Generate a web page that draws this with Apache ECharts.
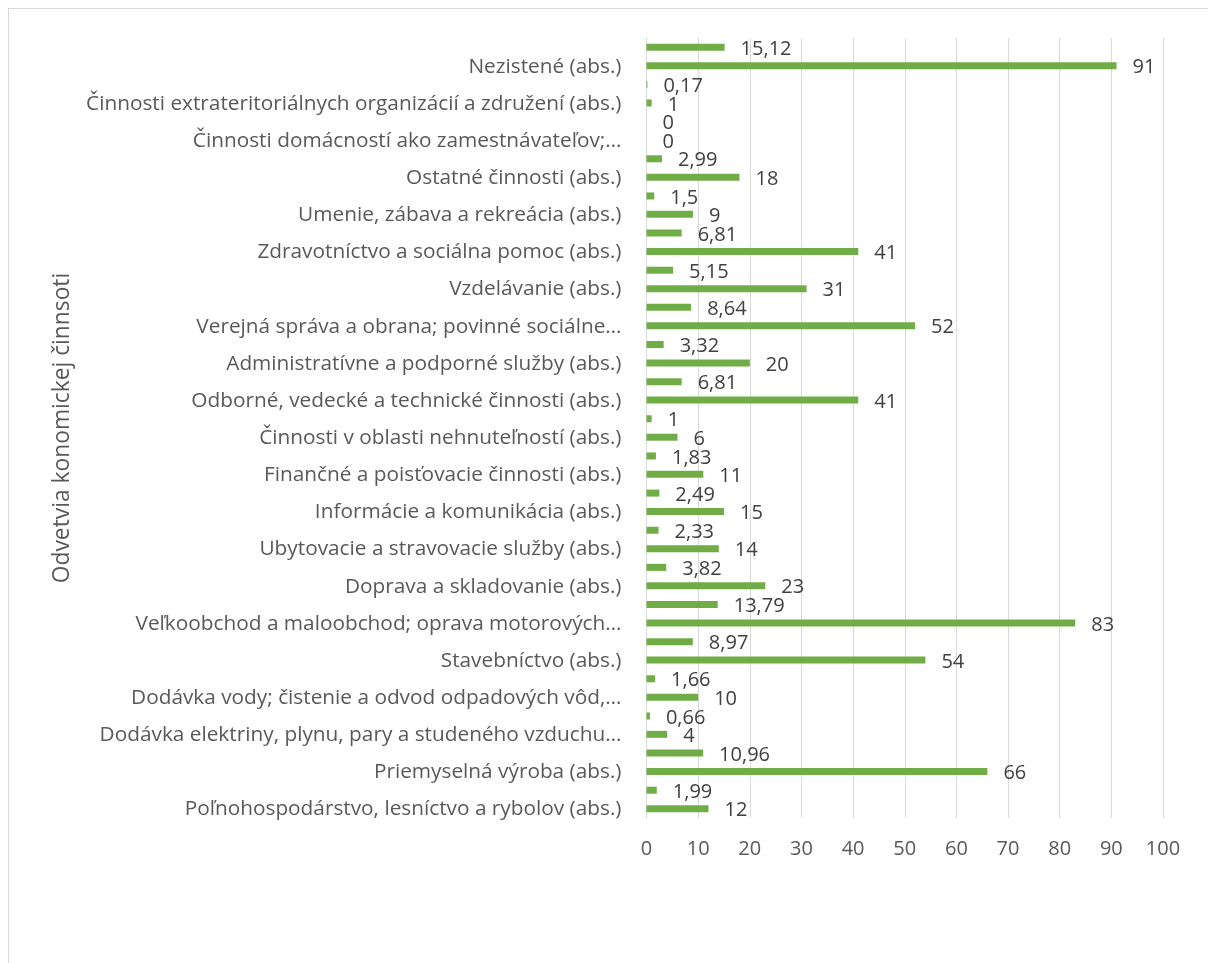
<!DOCTYPE html>
<html>
<head>
<meta charset="utf-8">
<script src="https://cdn.jsdelivr.net/npm/echarts@6/dist/echarts.min.js"></script>
<style>
html,body{margin:0;padding:0;background:#fff;overflow:hidden;}
#frame{position:absolute;left:8px;top:8px;width:1230px;height:990px;border:1px solid #d9d9d9;box-sizing:border-box;}
#chart{position:absolute;left:0;top:0;width:1208px;height:963px;}
</style>
</head>
<body>
<div id="frame"></div>
<div id="chart"></div>
<script>
const categories = [
  "Nezistené (abs.)",
  "Činnosti extrateritoriálnych organizácií a združení (abs.)",
  "Činnosti domácností ako zamestnávateľov;…",
  "Ostatné činnosti (abs.)",
  "Umenie, zábava a rekreácia (abs.)",
  "Zdravotníctvo a sociálna pomoc (abs.)",
  "Vzdelávanie (abs.)",
  "Verejná správa a obrana; povinné sociálne…",
  "Administratívne a podporné služby (abs.)",
  "Odborné, vedecké a technické činnosti (abs.)",
  "Činnosti v oblasti nehnuteľností (abs.)",
  "Finančné a poisťovacie činnosti (abs.)",
  "Informácie a komunikácia (abs.)",
  "Ubytovacie a stravovacie služby (abs.)",
  "Doprava a skladovanie (abs.)",
  "Veľkoobchod a maloobchod; oprava motorových…",
  "Stavebníctvo (abs.)",
  "Dodávka vody; čistenie a odvod odpadových vôd,…",
  "Dodávka elektriny, plynu, pary a studeného vzduchu…",
  "Priemyselná výroba (abs.)",
  "Poľnohospodárstvo, lesníctvo a rybolov (abs.)"
];
const percentValues = [15.12, 0.17, 0, 2.99, 1.5, 6.81, 5.15, 8.64, 3.32, 6.81, 1, 1.83, 2.49, 2.33, 3.82, 13.79, 8.97, 1.66, 0.66, 10.96, 1.99];
const absValues = [91, 1, 0, 18, 9, 41, 31, 52, 20, 41, 6, 11, 15, 14, 23, 83, 54, 10, 4, 66, 12];
const xTicks = {min: 0, max: 100, interval: 10};
const yAxisTitle = "Odvetvia konomickej činnsoti";

const FONT = "Open Sans";
const fmt = p => String(p.value).replace('.', ',');
const labelCfg = {show: true, position: 'right', distance: 16, color: '#404040', fontSize: 20, fontFamily: FONT, formatter: fmt, offset: [0, 2]};

const chart = echarts.init(document.getElementById('chart'), null, {renderer: 'canvas'});
chart.setOption({
  animation: false,
  backgroundColor: 'transparent',
  grid: {left: 646.5, right: 45, top: 38, bottom: 145, containLabel: false},
  xAxis: {
    type: 'value', min: xTicks.min, max: xTicks.max, interval: xTicks.interval,
    axisLine: {show: false}, axisTick: {show: false},
    splitLine: {show: true, lineStyle: {color: '#d9d9d9', width: 1}},
    axisLabel: {color: '#595959', fontSize: 20, fontFamily: FONT, margin: 21}
  },
  yAxis: {
    type: 'category', data: categories, inverse: true,
    name: yAxisTitle, nameLocation: 'middle', nameGap: 572, nameRotate: 90,
    nameTextStyle: {color: '#595959', fontSize: 22.8, fontFamily: FONT},
    axisLine: {show: true, lineStyle: {color: '#d9d9d9'}}, axisTick: {show: false},
    axisLabel: {color: '#595959', fontSize: 20.8, fontFamily: FONT, margin: 25, verticalAlign: 'top', lineHeight: 20, interval: 0}
  },
  series: [
    {name: 'pct', type: 'bar', data: percentValues, barWidth: 7, barGap: '163%', itemStyle: {color: '#70ad47'}, label: labelCfg},
    {name: 'abs', type: 'bar', data: absValues, barWidth: 7, barGap: '163%', itemStyle: {color: '#70ad47'}, label: labelCfg}
  ]
});
</script>
</body>
</html>
